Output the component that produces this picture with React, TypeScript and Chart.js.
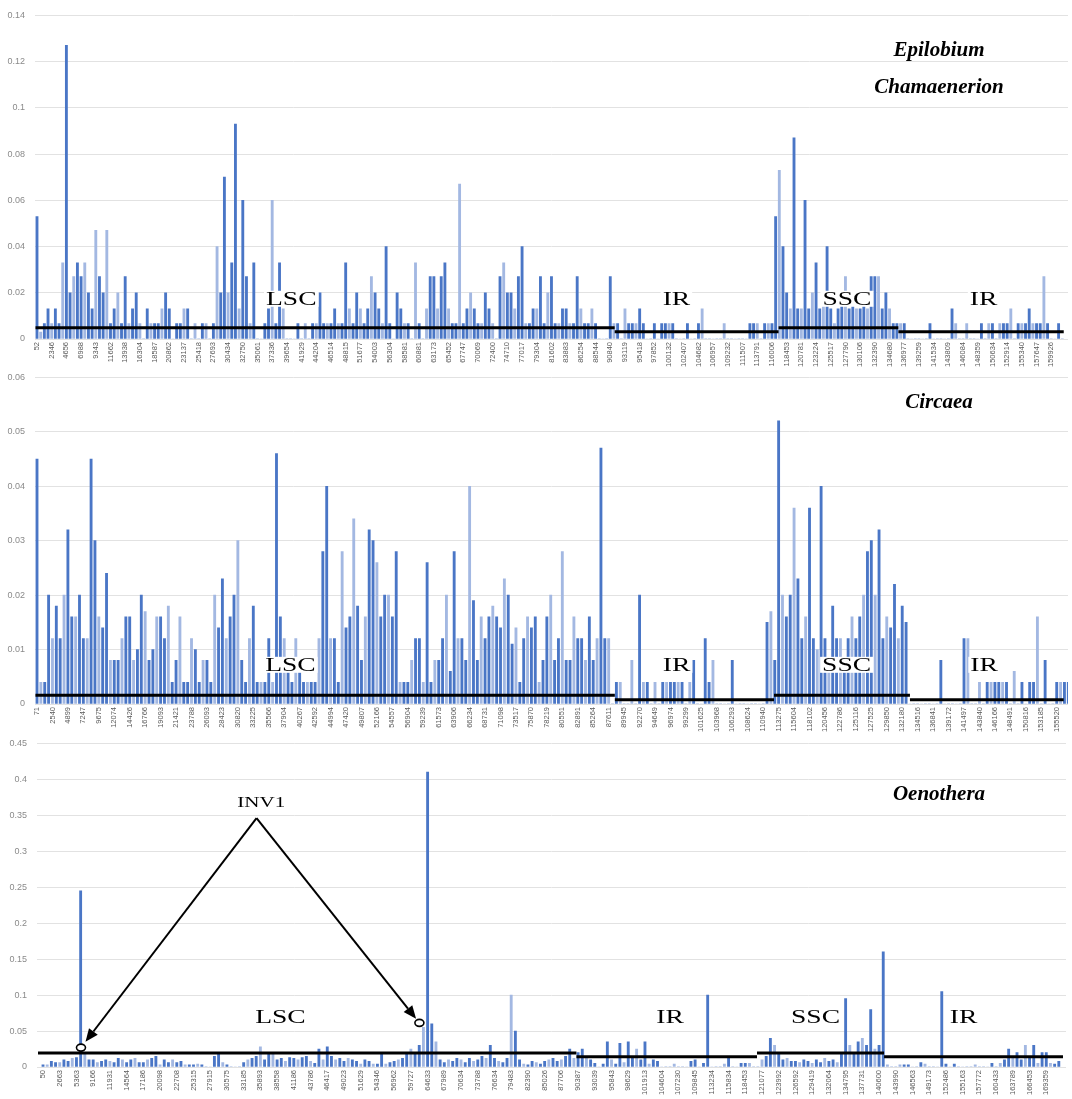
import React, { useEffect, useRef } from "react";
import { Chart, registerables } from "chart.js";

Chart.register(...registerables);

// windows drawn per labelled interval on the category axis
const SLOTS = 4;

// ---------- Epilobium / Chamaenerion ----------
const epilobiumTicks = [
  "52", "2346", "4656", "6988", "9343", "11662", "13938", "16304", "18587", "20862",
  "23137", "25418", "27693", "30434", "32750", "35061", "37336", "39654", "41929", "44204",
  "46514", "48815", "51677", "54003", "56304", "58581", "60881", "63173", "65452", "67747",
  "70069", "72400", "74710", "77017", "79304", "81602", "83883", "86254", "88544", "90840",
  "93119", "95418", "97852", "100132", "102407", "104682", "106957", "109232", "111507", "113791",
  "116006", "118453", "120781", "123224", "125517", "127790", "130106", "132390", "134680", "136977",
  "139259", "141534", "143809", "146084", "148359", "150634", "152914", "155340", "157647", "159926",
];
const epilobiumPi = [
  0.053, 0.003, 0.0067, 0.013, 0.0067, 0.013, 0.0067, 0.033, 0.127, 0.02, 0.027, 0.033,
  0.027, 0.033, 0.02, 0.013, 0.047, 0.027, 0.02, 0.047, 0.0067, 0.013, 0.02, 0.0067,
  0.027, 0.0067, 0.013, 0.02, 0.0067, 0, 0.013, 0.0067, 0.0067, 0.0067, 0.013, 0.02,
  0.013, 0, 0.0067, 0.0067, 0.013, 0.013, 0, 0.0067, 0, 0.0067, 0.0067, 0,
  0.0067, 0.04, 0.02, 0.07, 0.02, 0.033, 0.093, 0.013, 0.06, 0.027, 0.0067, 0.033,
  0, 0, 0.0067, 0.013, 0.06, 0.0067, 0.033, 0.013, 0, 0, 0, 0.0067,
  0, 0.0067, 0, 0.0067, 0.0067, 0.02, 0.0067, 0.0067, 0.0067, 0.013, 0.0067, 0.0067,
  0.033, 0.013, 0.0067, 0.02, 0.013, 0.0067, 0.013, 0.027, 0.02, 0.013, 0.0067, 0.04,
  0.0067, 0, 0.02, 0.013, 0.0067, 0.0067, 0, 0.033, 0.0067, 0, 0.013, 0.027,
  0.027, 0.013, 0.027, 0.033, 0.013, 0.0067, 0.0067, 0.067, 0.0067, 0.013, 0.02, 0.013,
  0.0067, 0.0067, 0.02, 0.013, 0.0067, 0, 0.027, 0.033, 0.02, 0.02, 0.013, 0.027,
  0.04, 0.0067, 0.0067, 0.013, 0.013, 0.027, 0.0067, 0.02, 0.027, 0.0067, 0.0067, 0.013,
  0.013, 0.0067, 0.0067, 0.027, 0.013, 0.0067, 0.0067, 0.013, 0.0067, 0, 0, 0,
  0.027, 0.0067, 0.0067, 0, 0.013, 0.0067, 0.0067, 0.0067, 0.013, 0.0067, 0, 0,
  0.0067, 0, 0.0067, 0.0067, 0.0067, 0.0067, 0, 0, 0, 0.0067, 0, 0,
  0.0067, 0.013, 0, 0, 0, 0, 0, 0.0067, 0, 0, 0, 0,
  0, 0, 0.0067, 0.0067, 0.0067, 0, 0.0067, 0.0067, 0.0067, 0.053, 0.073, 0.04,
  0.02, 0.013, 0.087, 0.013, 0.013, 0.06, 0.013, 0.02, 0.033, 0.013, 0.02, 0.04,
  0.013, 0.0067, 0.013, 0.02, 0.027, 0.013, 0.02, 0.013, 0.013, 0.02, 0.013, 0.027,
  0.027, 0.027, 0.013, 0.02, 0.013, 0.0067, 0.0067, 0.0067, 0.0067, 0, 0, 0,
  0, 0, 0, 0.0067, 0, 0, 0, 0, 0, 0.013, 0.0067, 0,
  0, 0.0067, 0, 0, 0, 0.0067, 0, 0.0067, 0.0067, 0, 0.0067, 0.0067,
  0.0067, 0.013, 0, 0.0067, 0.0067, 0.0067, 0.013, 0.0067, 0.0067, 0.0067, 0.027, 0.0067,
  0, 0, 0.0067, 0,
];
const epilobiumBounds = [-0.1, 39.3, 50.45, 58.6, 69.85];
const epilobiumLevels = [0.0049, 0.0031, 0.0049, 0.0031];
const epilobiumRegionX = [17.3, 43.5, 55.1, 64.4];
const epilobiumRegionY = 0.0174;

// ---------- Circaea ----------
const circaeaTicks = [
  "71", "2540", "4899", "7247", "9675", "12074", "14426", "16766", "19093", "21421",
  "23788", "26093", "28423", "30820", "33225", "35566", "37904", "40267", "42592", "44994",
  "47420", "49807", "52166", "54557", "56904", "59239", "61573", "63906", "66234", "68731",
  "71098", "73517", "75870", "78219", "80551", "82891", "85264", "87611", "89945", "92270",
  "94649", "96974", "99299", "101625", "103968", "106293", "108624", "110940", "113275", "115604",
  "118102", "120456", "122786", "125116", "127525", "129850", "132180", "134516", "136841", "139172",
  "141497", "143840", "146166", "148491", "150816", "153185", "155520",
];
const circaeaPi = [
  0.045, 0.004, 0.004, 0.02, 0.012, 0.018, 0.012, 0.02, 0.032, 0.016, 0.016, 0.02,
  0.012, 0.012, 0.045, 0.03, 0.016, 0.014, 0.024, 0.008, 0.008, 0.008, 0.012, 0.016,
  0.016, 0.008, 0.01, 0.02, 0.017, 0.008, 0.01, 0.016, 0.016, 0.012, 0.018, 0.004,
  0.008, 0.016, 0.004, 0.004, 0.012, 0.01, 0.004, 0.008, 0.008, 0.004, 0.02, 0.014,
  0.023, 0.012, 0.016, 0.02, 0.03, 0.008, 0.004, 0.012, 0.018, 0.004, 0.004, 0.004,
  0.012, 0.004, 0.046, 0.016, 0.012, 0.006, 0.004, 0.012, 0.006, 0.004, 0.004, 0.004,
  0.004, 0.012, 0.028, 0.04, 0.012, 0.012, 0.004, 0.028, 0.014, 0.016, 0.034, 0.018,
  0.008, 0.016, 0.032, 0.03, 0.026, 0.016, 0.02, 0.02, 0.016, 0.028, 0.004, 0.004,
  0.004, 0.008, 0.012, 0.012, 0.004, 0.026, 0.004, 0.008, 0.008, 0.012, 0.02, 0.006,
  0.028, 0.012, 0.012, 0.008, 0.04, 0.019, 0.008, 0.016, 0.012, 0.016, 0.018, 0.016,
  0.014, 0.023, 0.02, 0.011, 0.014, 0.004, 0.012, 0.016, 0.014, 0.016, 0.004, 0.008,
  0.016, 0.02, 0.008, 0.012, 0.028, 0.008, 0.008, 0.016, 0.012, 0.012, 0.008, 0.016,
  0.008, 0.012, 0.047, 0.012, 0.012, 0, 0.004, 0.004, 0, 0, 0.008, 0,
  0.02, 0.004, 0.004, 0, 0.004, 0, 0.004, 0.004, 0.004, 0.004, 0.004, 0.004,
  0, 0.004, 0.008, 0, 0, 0.012, 0.004, 0.008, 0, 0, 0, 0,
  0.008, 0, 0, 0, 0, 0, 0, 0, 0, 0.015, 0.017, 0.008,
  0.052, 0.02, 0.016, 0.02, 0.036, 0.023, 0.012, 0.016, 0.036, 0.012, 0.01, 0.04,
  0.012, 0.008, 0.018, 0.012, 0.012, 0.008, 0.012, 0.016, 0.012, 0.016, 0.02, 0.028,
  0.03, 0.02, 0.032, 0.012, 0.016, 0.014, 0.022, 0.012, 0.018, 0.015, 0, 0,
  0, 0, 0, 0, 0, 0, 0.008, 0, 0, 0, 0, 0,
  0.012, 0.012, 0, 0, 0.004, 0, 0.004, 0.004, 0.004, 0.004, 0.004, 0.004,
  0, 0.006, 0, 0.004, 0, 0.004, 0.004, 0.016, 0, 0.008, 0, 0,
  0.004, 0.004, 0.004, 0.004,
];
const circaeaBounds = [-0.1, 37.4, 47.7, 56.5, 66.45];
const circaeaLevels = [0.0016, 0.0008, 0.0016, 0.0008];
const circaeaRegionX = [16.4, 41.4, 52.4, 61.3];
const circaeaRegionY = 0.0072;

// ---------- Oenothera ----------
const oenotheraTicks = [
  "50", "2663", "5363", "9166", "11931", "14564", "17186", "20098", "22708", "25315",
  "27915", "30575", "33185", "35893", "38558", "41186", "43786", "46417", "49023", "51629",
  "54346", "56962", "59727", "64633", "67989", "70634", "73788", "76634", "79483", "82390",
  "85026", "87706", "90387", "93039", "95843", "98629", "101913", "104604", "107230", "109845",
  "113234", "115834", "118453", "121077", "123992", "126592", "129419", "132064", "134795", "137731",
  "140600", "143990", "146563", "149173", "152486", "155163", "157772", "160433", "163789", "166453",
  "169359",
];
const oenotheraPi = [
  0.003, 0.003, 0.008, 0.006, 0.006, 0.01, 0.008, 0.012, 0.013, 0.245, 0.02, 0.01,
  0.01, 0.006, 0.008, 0.01, 0.008, 0.006, 0.012, 0.01, 0.006, 0.01, 0.012, 0.006,
  0.006, 0.01, 0.012, 0.015, 0.003, 0.01, 0.006, 0.01, 0.006, 0.008, 0.003, 0.003,
  0.003, 0.004, 0.003, 0, 0, 0.015, 0.018, 0.006, 0.003, 0, 0, 0,
  0.006, 0.01, 0.012, 0.015, 0.028, 0.01, 0.02, 0.018, 0.01, 0.012, 0.008, 0.013,
  0.012, 0.01, 0.013, 0.015, 0.008, 0.005, 0.025, 0.01, 0.028, 0.015, 0.01, 0.012,
  0.008, 0.012, 0.01, 0.008, 0.004, 0.01, 0.008, 0.004, 0.004, 0.018, 0.004, 0.006,
  0.008, 0.01, 0.012, 0.02, 0.025, 0.02, 0.03, 0.055, 0.41, 0.06, 0.035, 0.01,
  0.006, 0.01, 0.008, 0.012, 0.01, 0.006, 0.012, 0.008, 0.01, 0.015, 0.012, 0.03,
  0.012, 0.008, 0.006, 0.012, 0.1, 0.05, 0.01, 0.004, 0.003, 0.008, 0.006, 0.004,
  0.008, 0.01, 0.012, 0.008, 0.01, 0.015, 0.025, 0.012, 0.02, 0.025, 0.015, 0.01,
  0.005, 0, 0.004, 0.035, 0.01, 0.004, 0.033, 0.006, 0.035, 0.015, 0.025, 0.01,
  0.035, 0.004, 0.01, 0.008, 0, 0, 0, 0.004, 0, 0, 0, 0.008,
  0.01, 0, 0.005, 0.1, 0, 0, 0, 0.004, 0.012, 0, 0, 0.005,
  0.005, 0.005, 0, 0, 0.01, 0.015, 0.04, 0.03, 0.02, 0.01, 0.012, 0.008,
  0.008, 0.006, 0.01, 0.008, 0.005, 0.01, 0.006, 0.012, 0.008, 0.01, 0.006, 0.02,
  0.095, 0.03, 0.02, 0.035, 0.04, 0.03, 0.08, 0.025, 0.03, 0.16, 0.003, 0,
  0, 0.003, 0.003, 0.003, 0, 0, 0.006, 0.004, 0, 0, 0, 0.105,
  0.004, 0, 0.004, 0, 0, 0, 0, 0.003, 0, 0, 0, 0.005,
  0, 0.005, 0.01, 0.025, 0.012, 0.02, 0.01, 0.03, 0.015, 0.03, 0.005, 0.02,
  0.02, 0.005, 0.004, 0.008,
];
const oenotheraBounds = [-0.3, 31.9, 42.7, 50.3, 61.0];
const oenotheraLevels = [0.0196, 0.0141, 0.0196, 0.0141];
const oenotheraRegionX = [14.2, 37.5, 46.2, 55.05];
const oenotheraRegionY = 0.07;

// INV1 annotation anchors (label-interval units, Pi value)
const inv1Text = [13.05, 0.366];
const inv1Apex = [12.77, 0.346];
const inv1Tips = [[2.54, 0.035], [22.31, 0.067]];
const inv1Marks = [[2.27, 0.027], [22.51, 0.0614]];

const regionNames = ["LSC", "IR", "SSC", "IR"];

type Panel = {
  key: string;
  ticks: string[];
  pi: number[];
  yMax: number;
  yStep: number;
  bounds: number[];
  levels: number[];
  regionX: number[];
  regionY: number;
  titles: { text: string; dy: number }[];
  xRange: [number, number];
  top: number;
  height: number;
  padTop: number;
  padRight: number;
  padBottom: number;
  yAxisWidth: number;
  xAxisHeight: number;
  annotate: boolean;
};

const panels: Panel[] = [
  {
    key: "epilobium",
    ticks: epilobiumTicks,
    pi: epilobiumPi,
    yMax: 0.14,
    yStep: 0.02,
    bounds: epilobiumBounds,
    levels: epilobiumLevels,
    regionX: epilobiumRegionX,
    regionY: epilobiumRegionY,
    titles: [
      { text: "Epilobium", dy: 35 },
      { text: "Chamaenerion", dy: 72 },
    ],
    xRange: [-0.136, 70.14],
    top: 0,
    height: 392,
    padTop: 5,
    padRight: 4,
    padBottom: 20,
    yAxisWidth: 35,
    xAxisHeight: 33,
    annotate: false,
  },
  {
    key: "circaea",
    ticks: circaeaTicks,
    pi: circaeaPi,
    yMax: 0.06,
    yStep: 0.01,
    bounds: circaeaBounds,
    levels: circaeaLevels,
    regionX: circaeaRegionX,
    regionY: circaeaRegionY,
    titles: [{ text: "Circaea", dy: 25 }],
    xRange: [-0.13, 66.73],
    top: 362,
    height: 398,
    padTop: 10,
    padRight: 4,
    padBottom: 20,
    yAxisWidth: 35,
    xAxisHeight: 36,
    annotate: false,
  },
  {
    key: "oenothera",
    ticks: oenotheraTicks,
    pi: oenotheraPi,
    yMax: 0.45,
    yStep: 0.05,
    bounds: oenotheraBounds,
    levels: oenotheraLevels,
    regionX: oenotheraRegionX,
    regionY: oenotheraRegionY,
    titles: [{ text: "Oenothera", dy: 51 }],
    xRange: [-0.36, 61.18],
    top: 728,
    height: 371,
    padTop: 12,
    padRight: 6,
    padBottom: 0,
    yAxisWidth: 37,
    xAxisHeight: 32,
    annotate: true,
  },
];

const SERIF = '"Liberation Serif", "Times New Roman", serif';
const TITLE_X = 939;

function drawRegionLabel(ctx: CanvasRenderingContext2D, text: string, cx: number, cy: number) {
  const stretch = 1.45;
  ctx.save();
  ctx.font = `19px ${SERIF}`;
  const w = ctx.measureText(text).width * stretch;
  ctx.fillStyle = "#ffffff";
  ctx.fillRect(cx - w / 2 - 2, cy - 8, w + 4, 16);
  ctx.translate(cx, cy);
  ctx.scale(stretch, 1);
  ctx.fillStyle = "#000000";
  ctx.textAlign = "center";
  ctx.textBaseline = "middle";
  ctx.fillText(text, 0, 1);
  ctx.restore();
}

function drawInv1(ctx: CanvasRenderingContext2D, xs: any, ys: any) {
  const px = (p: number[]) => [xs.getPixelForValue(p[0] * SLOTS), ys.getPixelForValue(p[1])];
  const apex = px(inv1Apex);
  ctx.save();
  ctx.strokeStyle = "#000";
  ctx.fillStyle = "#000";
  ctx.lineWidth = 2;
  inv1Tips.forEach((t) => {
    const tip = px(t);
    const dx = tip[0] - apex[0];
    const dy = tip[1] - apex[1];
    const len = Math.hypot(dx, dy);
    const ux = dx / len;
    const uy = dy / len;
    const bx = tip[0] - ux * 13;
    const by = tip[1] - uy * 13;
    ctx.beginPath();
    ctx.moveTo(apex[0], apex[1]);
    ctx.lineTo(bx, by);
    ctx.stroke();
    ctx.beginPath();
    ctx.moveTo(tip[0], tip[1]);
    ctx.lineTo(bx - uy * 5.5, by + ux * 5.5);
    ctx.lineTo(bx + uy * 5.5, by - ux * 5.5);
    ctx.closePath();
    ctx.fill();
  });
  inv1Marks.forEach((m) => {
    const c = px(m);
    ctx.beginPath();
    ctx.ellipse(c[0], c[1], 4.5, 3.5, 0, 0, Math.PI * 2);
    ctx.fillStyle = "#fff";
    ctx.fill();
    ctx.lineWidth = 1.6;
    ctx.stroke();
  });
  const tp = px(inv1Text);
  ctx.translate(tp[0], tp[1]);
  ctx.scale(1.5, 1);
  ctx.font = `14px ${SERIF}`;
  ctx.fillStyle = "#000";
  ctx.textAlign = "center";
  ctx.textBaseline = "middle";
  ctx.fillText("INV1", 0, 0);
  ctx.restore();
}

function buildConfig(p: Panel): any {
  const bars = {
    type: "bar",
    data: p.pi.map((v, i) => ({ x: i, y: v })),
    backgroundColor: (c: any) => (c.dataIndex % 3 === 1 ? "#a3b8e2" : "#4a76c6"),
    borderWidth: 0,
    barThickness: 2.2,
    order: 2,
  };
  const lines = p.levels.map((lv, i) => ({
    type: "line",
    data: [
      { x: p.bounds[i] * SLOTS, y: lv },
      { x: p.bounds[i + 1] * SLOTS, y: lv },
    ],
    borderColor: "#000000",
    borderWidth: 3,
    pointRadius: 0,
    fill: false,
    order: 1,
  }));
  const overlay = {
    id: "overlay-" + p.key,
    afterDatasetsDraw(chart: any) {
      const { ctx, chartArea, scales } = chart;
      const xs = scales.x;
      const ys = scales.y;
      p.regionX.forEach((rx, i) => {
        drawRegionLabel(ctx, regionNames[i], xs.getPixelForValue(rx * SLOTS), ys.getPixelForValue(p.regionY));
      });
      ctx.save();
      ctx.font = `italic bold 21px ${SERIF}`;
      ctx.fillStyle = "#000";
      ctx.textAlign = "center";
      ctx.textBaseline = "middle";
      p.titles.forEach((t) => ctx.fillText(t.text, TITLE_X, chartArea.top + t.dy));
      ctx.restore();
      if (p.annotate) drawInv1(ctx, xs, ys);
    },
  };
  return {
    type: "bar",
    data: { datasets: [bars, ...lines] },
    plugins: [overlay],
    options: {
      animation: false,
      responsive: false,
      maintainAspectRatio: false,
      events: [],
      layout: { padding: { top: p.padTop, right: p.padRight, left: 0, bottom: p.padBottom } },
      plugins: { legend: { display: false }, tooltip: { enabled: false } },
      scales: {
        x: {
          type: "linear",
          offset: false,
          min: p.xRange[0] * SLOTS,
          max: p.xRange[1] * SLOTS,
          grid: { display: false, drawTicks: false, tickLength: 0 },
          border: { display: false },
          afterBuildTicks: (s: any) => {
            s.ticks = p.ticks.map((_, i) => ({ value: i * SLOTS }));
          },
          afterFit: (s: any) => {
            s.height = p.xAxisHeight;
          },
          ticks: {
            autoSkip: false,
            minRotation: 90,
            maxRotation: 90,
            padding: 3,
            color: "#595959",
            font: { family: '"Liberation Sans", "DejaVu Sans Condensed", sans-serif', size: 7.5 },
            callback: (_v: any, i: number) => p.ticks[i],
          },
        },
        y: {
          min: 0,
          max: p.yMax,
          grid: { color: "#e2e2e2", lineWidth: 1, drawTicks: false },
          border: { display: false },
          afterFit: (s: any) => {
            s.width = p.yAxisWidth;
          },
          ticks: {
            stepSize: p.yStep,
            padding: 10,
            color: "#8a8a8a",
            font: { family: '"Liberation Sans", sans-serif', size: 9 },
            callback: (v: number) => String(Math.round(v * 1000) / 1000),
          },
        },
      },
    },
  };
}

function PanelChart({ p }: { p: Panel }) {
  const ref = useRef<HTMLCanvasElement | null>(null);
  useEffect(() => {
    if (!ref.current) return;
    const chart = new Chart(ref.current, buildConfig(p));
    return () => chart.destroy();
  }, [p]);
  return (
    <canvas
      ref={ref}
      width={1072}
      height={p.height}
      style={{ position: "absolute", left: 0, top: p.top, width: 1072, height: p.height }}
    />
  );
}

export default function App() {
  return (
    <div style={{ position: "absolute", left: 0, top: 0, width: 1072, height: 1099, background: "#ffffff" }}>
      {panels.map((p) => (
        <PanelChart key={p.key} p={p} />
      ))}
    </div>
  );
}
